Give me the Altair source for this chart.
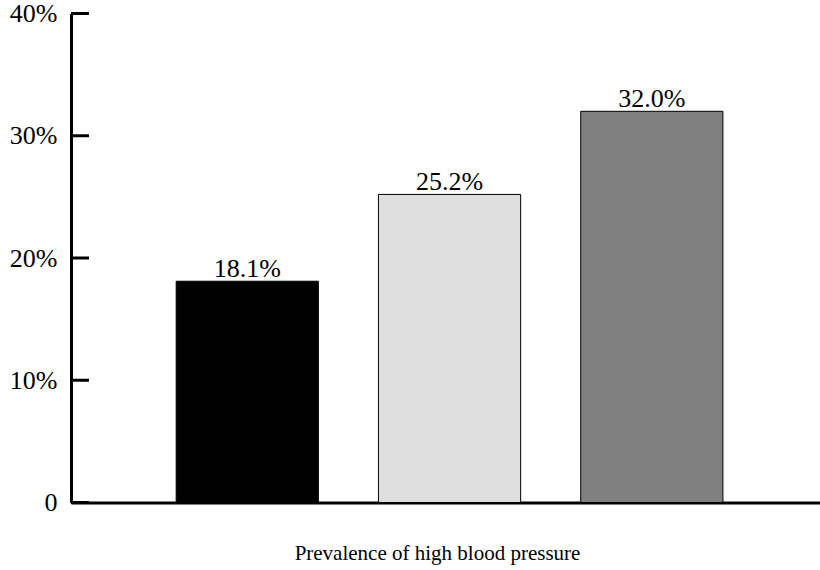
import altair as alt
import pandas as pd

groups = ["Group 1", "Group 2", "Group 3"]
values = [18.1, 25.2, 32.0]
colors = ["#000000", "#dedede", "#808080"]
y_ticks = [0, 10, 20, 30, 40]

df = pd.DataFrame({"group": groups, "value": values})
ticks_df = pd.DataFrame({"tick": y_ticks})

FONT = "Liberation Serif"

x_enc = alt.X(
    "group:N",
    sort=None,
    scale=alt.Scale(paddingInner=0.297, paddingOuter=0.5, align=0.52),
    axis=alt.Axis(
        title="Prevalence of high blood pressure",
        labels=False,
        ticks=False,
        domain=True,
        domainColor="black",
        domainWidth=3,
        titleFont=FONT,
        titleFontSize=21,
        titleFontWeight="normal",
        titleColor="black",
        titleX=366,
        titleY=56.5,
        titleAlign="center",
        titleBaseline="alphabetic",
    ),
)

y_scale = alt.Scale(domain=[0, 40], nice=False, zero=True)

bars = alt.Chart(df).mark_bar(stroke="black", strokeWidth=1).encode(
    x=x_enc,
    y=alt.Y(
        "value:Q",
        scale=y_scale,
        axis=alt.Axis(
            title=None,
            values=y_ticks,
            ticks=False,
            tickSize=0,
            grid=False,
            domain=True,
            domainColor="black",
            domainWidth=3,
            labelFont=FONT,
            labelFontSize=26,
            labelColor="black",
            labelPadding=14,
            labelExpr="datum.value == 0 ? '0' : datum.value + '%'",
        ),
    ),
    color=alt.Color("group:N", scale=alt.Scale(domain=groups, range=colors), legend=None),
)

labels = alt.Chart(df).transform_calculate(
    label="format(datum.value, '.1f') + '%'"
).mark_text(
    font=FONT, fontSize=26, color="black", baseline="alphabetic", dy=-4
).encode(
    x=alt.X("group:N", sort=None),
    y=alt.Y("value:Q", scale=y_scale),
    text="label:N",
)

tick_rules = alt.Chart(ticks_df).mark_rule(color="black", strokeWidth=3).encode(
    y=alt.Y("tick:Q", scale=y_scale),
    x=alt.value(0),
    x2=alt.value(18),
)

chart = alt.layer(bars, labels, tick_rules).properties(
    width=749,
    height=489,
    autosize=alt.AutoSizeParams(type="none"),
    padding={"left": 71, "top": 13.5, "right": 0, "bottom": 67.5},
    background="white",
).configure_view(stroke=None)

chart.save("out.html", embed_options={"renderer": "svg", "actions": False})
